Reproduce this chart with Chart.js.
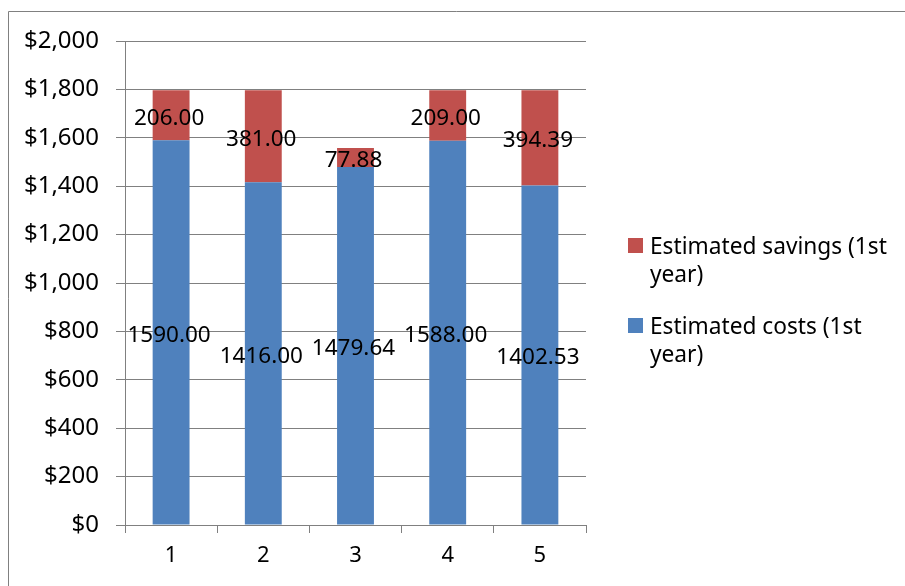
<!DOCTYPE html>
<html>
<head>
<meta charset="utf-8">
<script src="https://cdn.jsdelivr.net/npm/chart.js@4"></script>
<style>
  html, body { margin: 0; padding: 0; background: #fff; }
  #wrap { width: 905px; height: 586px; position: relative; }
</style>
</head>
<body>
<div id="wrap"><canvas id="chart" width="905" height="586"></canvas></div>
<script>
const categories = ['1', '2', '3', '4', '5'];
const costs = [1590.00, 1416.00, 1479.64, 1588.00, 1402.53]; // Estimated costs (1st year)
const savings = [206.00, 381.00, 77.88, 209.00, 394.39];     // Estimated savings (1st year)
const yTicks = [0, 200, 400, 600, 800, 1000, 1200, 1400, 1600, 1800, 2000];

const seriesNames = ['Estimated costs (1st year)', 'Estimated savings (1st year)'];
const legendLines = [['Estimated savings (1st', 'year)'], ['Estimated costs (1st', 'year)']];

const FONT = "'Noto Sans', sans-serif";
const GRID = '#808080';

// value labels centred in each bar segment
const valueLabels = {
    id: 'valueLabels',
    afterDatasetsDraw(chart) {
        const ctx = chart.ctx;
        ctx.save();
        ctx.font = '22.5px ' + FONT;
        ctx.fillStyle = '#000';
        ctx.textAlign = 'center';
        ctx.textBaseline = 'middle';
        chart.data.datasets.forEach((ds, i) => {
            chart.getDatasetMeta(i).data.forEach((bar, j) => {
                const y = (bar.y + bar.base) / 2;
                ctx.fillText(ds.data[j].toFixed(2), bar.x - 2, y + 3);
            });
        });
        ctx.restore();
    }
};

// outer frame + legend on the right
const frameLegend = {
    id: 'frameLegend',
    afterDraw(chart) {
        const ctx = chart.ctx;
        ctx.save();
        ctx.strokeStyle = GRID;
        ctx.lineWidth = 1;
        ctx.beginPath();
        ctx.moveTo(8.5, chart.height);
        ctx.lineTo(8.5, 11.5);
        ctx.lineTo(chart.width, 11.5);
        ctx.stroke();

        const order = [1, 0];
        ctx.font = '22.7px ' + FONT;
        ctx.textBaseline = 'alphabetic';
        ctx.textAlign = 'left';
        let base = 254;
        order.forEach((di, k) => {
            const ds = chart.data.datasets[di];
            ctx.fillStyle = ds.backgroundColor;
            ctx.fillRect(628, base - 16, 15, 15);
            ctx.fillStyle = '#000';
            legendLines[k].forEach((line, n) => {
                ctx.fillText(line, 650, base + n * 28);
            });
            base += 80;
        });
        ctx.restore();
    }
};

const ctx = document.getElementById('chart').getContext('2d');
new Chart(ctx, {
    type: 'bar',
    data: {
        labels: categories,
        datasets: [
            { label: seriesNames[0], data: costs, backgroundColor: '#4F81BD' },
            { label: seriesNames[1], data: savings, backgroundColor: '#C0504D' }
        ]
    },
    options: {
        responsive: false,
        animation: false,
        devicePixelRatio: 1,
        layout: { padding: { left: 0, top: 41, right: 319, bottom: 0 } },
        datasets: { bar: { categoryPercentage: 1, barPercentage: 0.4 } },
        plugins: {
            legend: { display: false },
            tooltip: { enabled: false }
        },
        scales: {
            x: {
                stacked: true,
                offset: true,
                grid: { drawOnChartArea: false, drawTicks: true, tickLength: 8, color: GRID, offset: true },
                border: { color: GRID, width: 1 },
                ticks: { color: '#000', font: { family: FONT, size: 22 }, padding: 10 },
                afterFit(scale) { scale.height = 61; }
            },
            y: {
                stacked: true,
                min: 0,
                max: 2000,
                afterBuildTicks(scale) { scale.ticks = yTicks.map(v => ({ value: v })); },
                grid: { color: GRID, tickLength: 9 },
                border: { color: GRID, width: 1 },
                ticks: {
                    color: '#000',
                    font: { family: FONT, size: 24 },
                    padding: 17,
                    callback: v => '$' + v.toLocaleString('en-US')
                },
                afterFit(scale) { scale.width = 125; }
            }
        }
    },
    plugins: [valueLabels, frameLegend]
});
</script>
</body>
</html>
